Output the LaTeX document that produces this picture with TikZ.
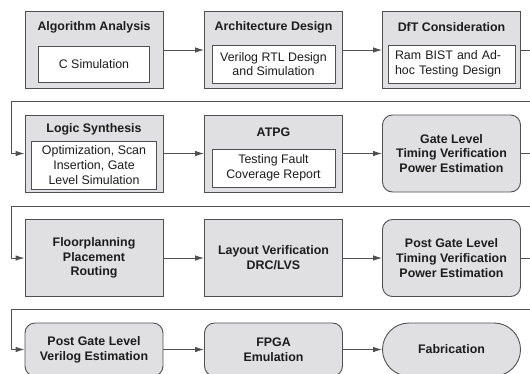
\documentclass[tikz,border=0pt]{standalone}
\usepackage{fontspec}
\setmainfont{Liberation Sans}
\usetikzlibrary{arrows.meta,shapes.misc}

\definecolor{boxfill}{RGB}{224,224,226}
\definecolor{linegray}{RGB}{80,80,80}
\definecolor{ink}{RGB}{28,28,28}
\newcommand{\stagefont}{\fontsize{12.4}{14.8}\selectfont}

\tikzset{
  stage/.style={draw=linegray, fill=boxfill, line width=0.9pt, minimum width=138pt,
    minimum height=77pt, inner sep=0pt, align=center, text=ink, font=\stagefont\bfseries},
  roundstage/.style={stage, rounded corners=10pt},
  pillstage/.style={stage, rounded rectangle},
  title/.style={inner sep=0pt, text=ink, font=\stagefont\bfseries},
  detail/.style={draw=linegray, fill=white, line width=0.9pt, inner sep=0pt,
    align=center, text=ink, font=\stagefont},
  flow/.style={draw=linegray, line width=0.9pt, -{Latex[length=9pt,width=5.5pt]}}
}

\begin{document}
\begin{tikzpicture}[x=1pt,y=-1pt]
\useasboundingbox (0,0) rectangle (530,373);
\clip (0,0) rectangle (530,373);

% Row 1
\node[stage] (a1) at (94,50) {};
\node[stage] (a2) at (273.5,50) {};
\node[stage] (a3) at (451.5,50) {};
\node[title] (a1t) at ([yshift=-16pt]a1.north) {Algorithm Analysis};
\node[title] (a2t) at ([yshift=-16pt]a2.north) {Architecture Design};
\node[title] (a3t) at ([yshift=-16pt]a3.north) {DfT Consideration};
\node[detail, minimum width=111pt, minimum height=36pt] (a1i) at ([yshift=-14pt]a1.center) {C Simulation};
\node[detail, minimum width=123pt, minimum height=38pt] (a2i) at ([yshift=-14pt]a2.center) {Verilog RTL Design\\and Simulation};
\node[detail, minimum width=127pt, minimum height=38pt, align=left, text width=113pt, inner xsep=7pt] (a3i) at ([yshift=-14pt]a3.center) {Ram BIST and Ad-\\hoc Testing Design};

% Row 2
\node[stage] (b1) at (94,153.5) {};
\node[stage] (b2) at (273.5,153.5) {};
\node[roundstage] (b3) at (451.5,153.5) {Gate Level\\Timing Verification\\Power Estimation};
\node[title] (b1t) at ([yshift=-15pt]b1.north) {Logic Synthesis};
\node[title] (b2t) at ([yshift=-18pt]b2.north) {ATPG};
\node[detail, minimum width=125pt, minimum height=48pt] (b1i) at ([yshift=-11.5pt]b1.center) {Optimization, Scan\\Insertion, Gate\\Level Simulation};
\node[detail, minimum width=123pt, minimum height=38pt] (b2i) at ([yshift=-14.5pt]b2.center) {Testing Fault\\Coverage Report};

% Row 3
\node[stage] (c1) at (94,258) {Floorplanning\\Placement\\Routing};
\node[stage] (c2) at (273.5,258) {Layout Verification\\DRC/LVS};
\node[roundstage] (c3) at (451.5,258) {Post Gate Level\\Timing Verification\\Power Estimation};

% Row 4
\node[roundstage, minimum height=53pt] (d1) at (94,349.5) {Post Gate Level\\Verilog Estimation};
\node[roundstage, minimum height=53pt] (d2) at (273.5,349.5) {FPGA\\Emulation};
\node[pillstage, minimum height=53pt] (d3) at (451.5,349.5) {Fabrication};

% Arrows along each row
\foreach \from/\to in {a1/a2,a2/a3,b1/b2,b2/b3,c1/c2,c2/c3,d1/d2,d2/d3}
  \draw[flow] (\from) -- (\to);

% Wrap from the end of one row to the start of the next
\foreach \from/\to in {a3/b1,b3/c1,c3/d1}
  \draw[flow] (\from.east) -- ++(14,0) |- ([xshift=-13pt,yshift=13pt]\to.north west) |- (\to.west);
\end{tikzpicture}
\end{document}
